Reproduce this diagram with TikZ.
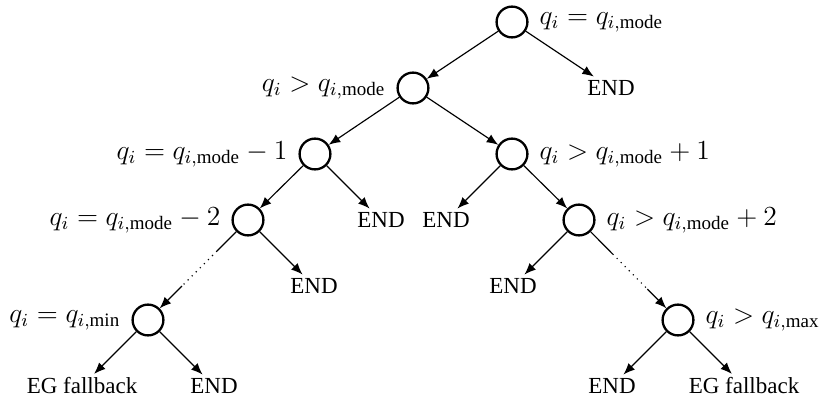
\documentclass[tikz,border=0pt]{standalone}
\usepackage{amsmath}
\usepackage{fontspec}
\setmainfont{Liberation Serif}
\usetikzlibrary{arrows.meta,calc}
\begin{document}
\begin{tikzpicture}[x=0.4348pt,y=-0.4348pt,
  dec/.style={circle,draw,line width=1pt,minimum size=13.4pt,inner sep=0pt},
  leaf/.style={inner sep=1.5pt},
  lab/.style={inner sep=4.6pt,font=\fontsize{11.8}{14}\selectfont},
  edge/.style={line width=0.5pt,-{Latex[length=5pt,width=4pt]}},
  plain/.style={line width=0.5pt}]
\useasboundingbox (0,0) rectangle (820,400);
% decision nodes
\node[dec] (n1) at (512,22) {};
\node[dec] (n2) at (413,88) {};
\node[dec] (n3) at (315,154) {};
\node[dec] (n4) at (512,154) {};
\node[dec] (n5) at (248,220) {};
\node[dec] (n6) at (579,220) {};
\node[dec] (n7) at (148,320) {};
\node[dec] (n8) at (678,320) {};
% labels
\node[lab,anchor=west] (l1) at (n1.east) {$q_i = q_{i,\mathrm{mode}}$};
\node[lab,anchor=east] (l2) at (n2.west) {$q_i > q_{i,\mathrm{mode}}$};
\node[lab,anchor=east] (l3) at (n3.west) {$q_i = q_{i,\mathrm{mode}} - 1$};
\node[lab,anchor=west] (l4) at (n4.east) {$q_i > q_{i,\mathrm{mode}} + 1$};
\node[lab,anchor=east] (l5) at (n5.west) {$q_i = q_{i,\mathrm{mode}} - 2$};
\node[lab,anchor=west] (l6) at (n6.east) {$q_i > q_{i,\mathrm{mode}} + 2$};
\node[lab,anchor=east] (l7) at (n7.west) {$q_i = q_{i,\mathrm{min}}$};
\node[lab,anchor=west] (l8) at (n8.east) {$q_i > q_{i,\mathrm{max}}$};
% leaves
\node[leaf] (e1) at (611,88) {END};
\node[leaf] (e3) at (381,220) {END};
\node[leaf] (e4) at (446,220) {END};
\node[leaf] (e5) at (314,286) {END};
\node[leaf] (e6) at (513,286) {END};
\node[leaf] (f7) at (82,386) {EG fallback};
\node[leaf] (e7) at (214,386) {END};
\node[leaf] (e8) at (612,386) {END};
\node[leaf] (f8) at (744,386) {EG fallback};
% connectors
\draw[edge] (n1) -- (n2);
\draw[edge] (n1) -- (e1);
\draw[edge] (n2) -- (n3);
\draw[edge] (n2) -- (n4);
\draw[edge] (n3) -- (n5);
\draw[edge] (n3) -- (e3);
\draw[edge] (n4) -- (e4);
\draw[edge] (n4) -- (n6);
\draw[edge] (n5) -- (e5);
\draw[edge] (n6) -- (e6);
\draw[edge] (n7) -- (f7);
\draw[edge] (n7) -- (e7);
\draw[edge] (n8) -- (e8);
\draw[edge] (n8) -- (f8);
% dotted chains
\coordinate (a5) at ($(n5)!0.31!(n7)$);
\coordinate (b5) at ($(n5)!0.66!(n7)$);
\coordinate (a6) at ($(n6)!0.34!(n8)$);
\coordinate (b6) at ($(n6)!0.69!(n8)$);
\draw[plain] (n5) -- (a5);
\draw[plain,dotted] (a5) -- (b5);
\draw[edge] (b5) -- (n7);
\draw[plain] (n6) -- (a6);
\draw[plain,dotted] (a6) -- (b6);
\draw[edge] (b6) -- (n8);
\end{tikzpicture}
\end{document}
